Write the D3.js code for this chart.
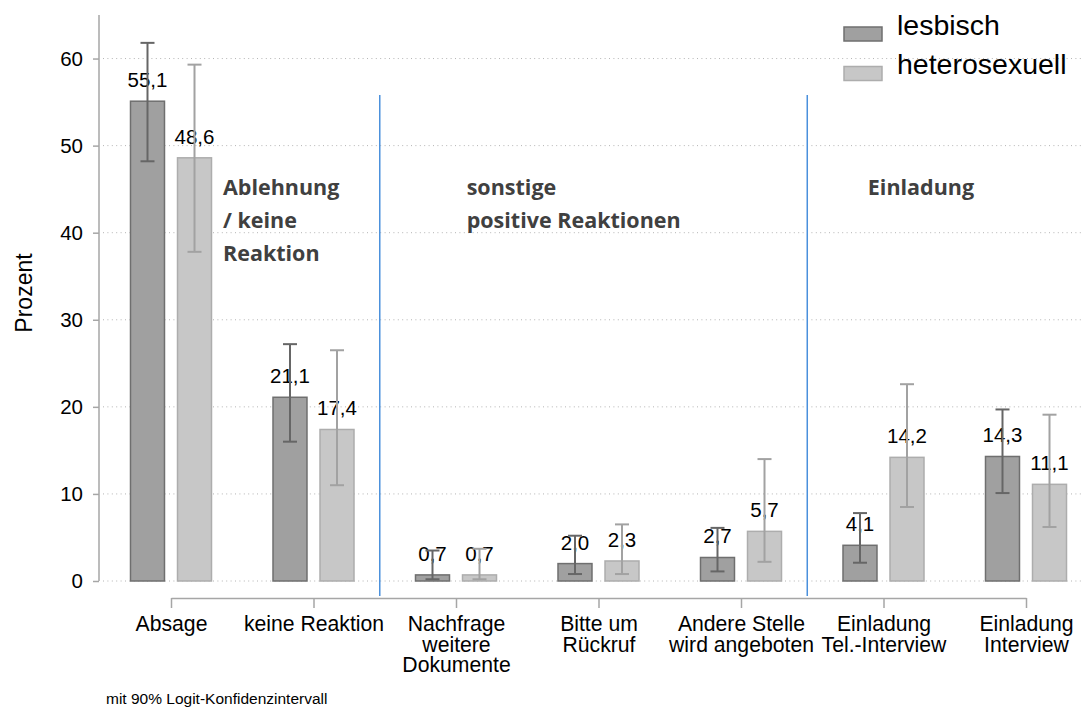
<!DOCTYPE html>
<html>
<head>
<meta charset="utf-8">
<script src="https://cdn.jsdelivr.net/npm/d3@7"></script>
<style>
  body { margin: 0; background: #fff; }
  svg { display: block; font-family: Arial, "Liberation Sans", sans-serif; }
</style>
</head>
<body>
<svg id="chart" width="1083" height="709"></svg>
<script>
// categories (each label split into lines)
const categories = [
    ['Absage'],
    ['keine Reaktion'],
    ['Nachfrage', 'weitere', 'Dokumente'],
    ['Bitte um', 'Rückruf'],
    ['Andere Stelle', 'wird angeboten'],
    ['Einladung', 'Tel.-Interview'],
    ['Einladung', 'Interview']
]
const series = ['lesbisch', 'heterosexuell']

// percentages and 90% logit confidence bounds
const lesbisch = [55.1, 21.1, 0.7, 2.0, 2.7, 4.1, 14.3]
const lesbischLow = [48.2, 16.0, 0.2, 0.8, 1.1, 2.1, 10.1]
const lesbischHigh = [61.8, 27.2, 3.5, 5.2, 6.1, 7.8, 19.7]
const hetero = [48.6, 17.4, 0.7, 2.3, 5.7, 14.2, 11.1]
const heteroLow = [37.8, 11.0, 0.2, 0.8, 2.2, 8.5, 6.2]
const heteroHigh = [59.3, 26.5, 3.7, 6.5, 14.0, 22.6, 19.1]

const yTicks = [0, 10, 20, 30, 40, 50, 60]

// section titles and separators (in category index units)
const groups = [
    { lines: ['Ablehnung', '/ keine', 'Reaktion'], at: 0.365 },
    { lines: ['sonstige', 'positive Reaktionen'], at: 2.075 },
    { lines: ['Einladung'], at: 4.89 }
]
const separators = [1.465, 4.465]

const colors = {
    lesbisch: { fill: '#a0a0a0', stroke: '#6f6f6f', err: '#666666' },
    heterosexuell: { fill: '#c7c7c7', stroke: '#adadad', err: '#a2a2a2' }
}

const svg = d3.select('#chart')

const x = d3.scaleLinear().domain([0, categories.length - 1]).range([171, 1026])
const inner = d3.scaleBand().domain(series).range([-40.5, 40.5]).paddingInner(0.277)
const y = d3.scaleLinear().domain([0, 65]).range([581, 15])

const rows = []
categories.forEach((c, i) => {
    rows.push({ i, s: 'lesbisch', v: lesbisch[i], lo: lesbischLow[i], hi: lesbischHigh[i] })
    rows.push({ i, s: 'heterosexuell', v: hetero[i], lo: heteroLow[i], hi: heteroHigh[i] })
})
const cx = d => x(d.i) + inner(d.s) + inner.bandwidth() / 2

// dotted grid lines
svg.append('g')
    .selectAll('line')
    .data(yTicks)
    .enter()
    .append('line')
    .attr('x1', 103)
    .attr('x2', 1083)
    .attr('y1', d => y(d))
    .attr('y2', d => y(d))
    .attr('stroke', '#b4b4b4')
    .attr('stroke-width', 1)
    .attr('stroke-dasharray', '1,3.4')

// y axis
const yAxis = svg.append('g')
    .attr('transform', 'translate(99,0)')
    .call(d3.axisLeft(y).tickValues(yTicks).tickSize(6).tickPadding(10).tickSizeOuter(0))
yAxis.select('.domain').remove()
yAxis.append('line')
    .attr('x1', 0).attr('x2', 0)
    .attr('y1', y(65)).attr('y2', y(0))
    .attr('stroke', '#a6a6a6').attr('stroke-width', 1.5)
yAxis.selectAll('.tick line').attr('stroke', '#a6a6a6').attr('stroke-width', 1.5)
yAxis.selectAll('.tick text')
    .attr('fill', '#000')
    .style('font-size', '20.5px')
    .style('font-family', 'Arial, "Liberation Sans", sans-serif')

// x axis
const xAxis = svg.append('g')
    .attr('transform', 'translate(0,598)')
    .call(d3.axisBottom(x).tickValues(d3.range(categories.length)).tickSize(10).tickSizeOuter(0).tickFormat(''))
xAxis.select('.domain').attr('stroke', '#a6a6a6').attr('stroke-width', 1.5)
xAxis.selectAll('.tick line').attr('stroke', '#a6a6a6').attr('stroke-width', 1.5)
xAxis.selectAll('.tick')
    .each(function (i) {
        const t = d3.select(this).append('text')
            .attr('fill', '#000')
            .attr('text-anchor', 'middle')
            .style('font-size', '21.2px')
            .style('font-family', 'Arial, "Liberation Sans", sans-serif')
        categories[i].forEach((line, k) => {
            t.append('tspan').attr('x', 0).attr('y', 33 + k * 20.5).text(line)
        })
    })

// separators
svg.append('g')
    .selectAll('line')
    .data(separators)
    .enter()
    .append('line')
    .attr('x1', d => x(d))
    .attr('x2', d => x(d))
    .attr('y1', 95)
    .attr('y2', 596)
    .attr('stroke', '#4a90dc')
    .attr('stroke-width', 1.5)

// bars
svg.append('g')
    .selectAll('rect')
    .data(rows)
    .enter()
    .append('rect')
    .attr('x', d => x(d.i) + inner(d.s))
    .attr('width', inner.bandwidth())
    .attr('y', d => y(d.v))
    .attr('height', d => y(0) - y(d.v))
    .attr('fill', d => colors[d.s].fill)
    .attr('stroke', d => colors[d.s].stroke)
    .attr('stroke-width', 1.5)

// value labels
svg.append('g')
    .selectAll('text')
    .data(rows)
    .enter()
    .append('text')
    .attr('x', cx)
    .attr('y', d => y(d.v) - 14)
    .attr('text-anchor', 'middle')
    .style('font-size', '20.5px')
    .text(d => d3.format('.1f')(d.v).replace('.', ','))

// error bars
const err = svg.append('g')
    .selectAll('g')
    .data(rows)
    .enter()
    .append('g')
    .attr('stroke', d => colors[d.s].err)
    .attr('stroke-width', 2)
err.append('line')
    .attr('x1', cx).attr('x2', cx)
    .attr('y1', d => y(d.lo)).attr('y2', d => y(d.hi))
err.append('line')
    .attr('x1', d => cx(d) - 7).attr('x2', d => cx(d) + 7)
    .attr('y1', d => y(d.hi)).attr('y2', d => y(d.hi))
err.append('line')
    .attr('x1', d => cx(d) - 7).attr('x2', d => cx(d) + 7)
    .attr('y1', d => y(d.lo)).attr('y2', d => y(d.lo))

// section titles
groups.forEach(g => {
    const t = svg.append('text')
        .attr('fill', '#404040')
        .style('font-family', '"Open Sans", sans-serif')
        .style('font-weight', 'bold')
        .style('font-size', '21.5px')
    g.lines.forEach((line, k) => {
        t.append('tspan').attr('x', x(g.at)).attr('y', 195 + k * 33).text(line)
    })
})

// legend
const legend = svg.append('g')
    .selectAll('g')
    .data(series)
    .enter()
    .append('g')
    .attr('transform', (d, k) => `translate(844,${27 + k * 39.5})`)
legend.append('rect')
    .attr('width', 38)
    .attr('height', 14)
    .attr('fill', d => colors[d].fill)
    .attr('stroke', d => colors[d].stroke)
    .attr('stroke-width', 1.5)
legend.append('text')
    .attr('x', 53)
    .attr('y', 7.5)
    .style('font-size', '28.5px')
    .text(d => d)

// y title
svg.append('text')
    .attr('transform', 'translate(32,293) rotate(-90)')
    .attr('text-anchor', 'middle')
    .style('font-size', '23px')
    .text('Prozent')

// note
svg.append('text')
    .attr('x', 106)
    .attr('y', 704)
    .style('font-size', '15.5px')
    .text('mit 90% Logit-Konfidenzintervall')
</script>
</body>
</html>
